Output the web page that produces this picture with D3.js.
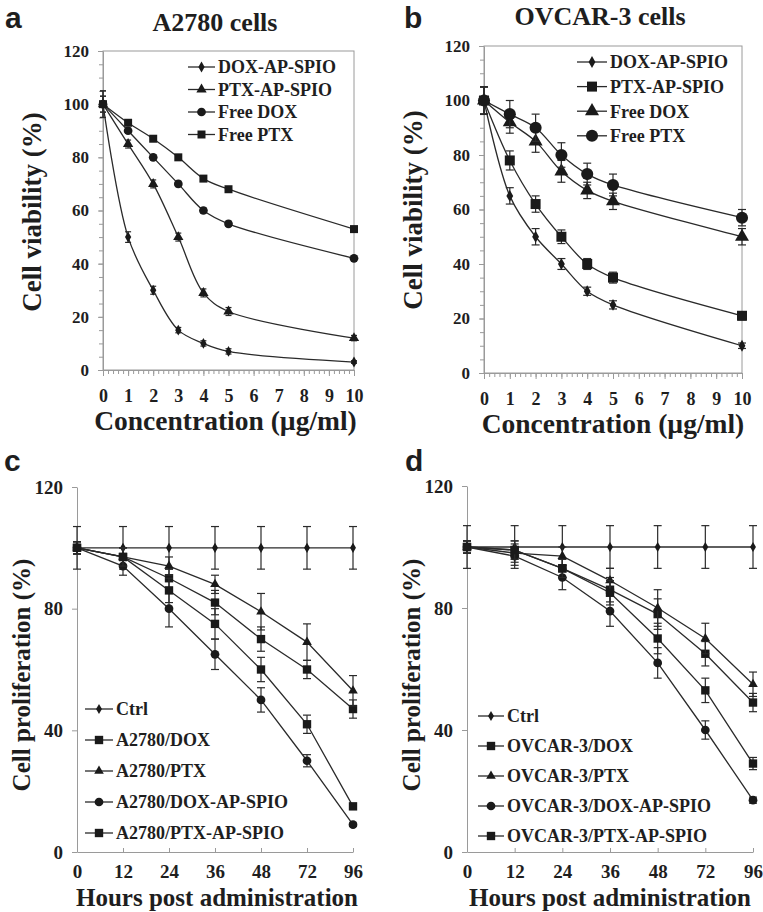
<!DOCTYPE html>
<html>
<head>
<meta charset="utf-8">
<script src="https://cdn.jsdelivr.net/npm/d3@7"></script>
<style>
body { margin: 0; background: #fff; }
text { font-family: "Liberation Serif", "Times New Roman", serif; font-weight: bold; fill: #1e1e1e; }
.letter { font-family: "Liberation Sans", Arial, sans-serif; font-size: 30px; }
.axis path, .axis line { stroke: #9a9a9a; }
</style>
</head>
<body>
<svg id="chart" width="763" height="912"></svg>
<script>
// x categories
var concLabels = ["0", "1", "2", "3", "4", "5", "6", "7", "8", "9", "10"];
var concPoints = ["0", "1", "2", "3", "4", "5", "10"];
var hourLabels = ["0", "12", "24", "36", "48", "72", "96"];

// panel a: A2780 cells, viability (%)
var aNames = ["DOX-AP-SPIO", "PTX-AP-SPIO", "Free DOX", "Free PTX"];
var aDoxSpio = [100, 50, 30, 15, 10, 7, 3];
var aPtxSpio = [100, 85, 70, 50, 29, 22, 12];
var aFreeDox = [100, 90, 80, 70, 60, 55, 42];
var aFreePtx = [100, 93, 87, 80, 72, 68, 53];
var aDoxSpioErr = [5, 2, 1.5, 1, 1, 1, 0.5];
var aPtxSpioErr = [5, 1.5, 1.5, 1.5, 1.5, 1.5, 1];
var aFreeDoxErr = [3, 1, 1, 1, 1, 1, 1];
var aFreePtxErr = [3, 1, 1, 1, 1, 1, 1];

// panel b: OVCAR-3 cells, viability (%)
var bNames = ["DOX-AP-SPIO", "PTX-AP-SPIO", "Free DOX", "Free PTX"];
var bDoxSpio = [100, 65, 50, 40, 30, 25, 10];
var bPtxSpio = [100, 78, 62, 50, 40, 35, 21];
var bFreeDox = [100, 92, 85, 74, 67, 63, 50];
var bFreePtx = [100, 95, 90, 80, 73, 69, 57];
var bDoxSpioErr = [5, 3, 3, 2, 1.5, 1.5, 1];
var bPtxSpioErr = [5, 3.5, 3, 2.5, 2, 2, 1.5];
var bFreeDoxErr = [5, 4, 4, 4, 3, 3, 3];
var bFreePtxErr = [5, 5, 5, 4.5, 4, 4, 3];

// panel c: A2780 proliferation (%)
var cNames = ["Ctrl", "A2780/DOX", "A2780/PTX", "A2780/DOX-AP-SPIO", "A2780/PTX-AP-SPIO"];
var cCtrl = [100, 100, 100, 100, 100, 100, 100];
var cDox = [100, 97, 90, 82, 70, 60, 47];
var cPtx = [100, 97, 94, 88, 79, 69, 53];
var cDoxSpio = [100, 94, 80, 65, 50, 30, 9];
var cPtxSpio = [100, 97, 86, 75, 60, 42, 15];
var cCtrlErr = [7, 7, 7, 7, 7, 7, 7];
var cDoxErr = [2, 3, 3, 4, 4, 3, 3];
var cPtxErr = [2, 3, 3, 3, 6, 6, 5];
var cDoxSpioErr = [2, 3, 6, 5, 4, 2, 0.5];
var cPtxSpioErr = [2, 3, 4, 5, 4, 3, 1];

// panel d: OVCAR-3 proliferation (%)
var dNames = ["Ctrl", "OVCAR-3/DOX", "OVCAR-3/PTX", "OVCAR-3/DOX-AP-SPIO", "OVCAR-3/PTX-AP-SPIO"];
var dCtrl = [100, 100, 100, 100, 100, 100, 100];
var dDox = [100, 99, 93, 86, 78, 65, 49];
var dPtx = [100, 98, 97, 89, 80, 70, 55];
var dDoxSpio = [100, 97, 90, 79, 62, 40, 17];
var dPtxSpio = [100, 99, 93, 85, 70, 53, 29];
var dCtrlErr = [7, 7, 7, 7, 7, 7, 7];
var dDoxErr = [2, 3, 3, 4, 5, 4, 3];
var dPtxErr = [2, 3, 3, 4, 6, 5, 4];
var dDoxSpioErr = [2, 3, 4, 5, 5, 3, 1];
var dPtxSpioErr = [2, 3, 3, 4, 5, 4, 2];

var svg = d3.select("#chart");

function makeSeries(names, values, errs, shapes, sizes) {
	return names.map(function(n, i) {
		return { name: n, values: values[i], err: errs[i], shape: shapes[i], size: sizes[i] };
	});
}

function drawPanel(p) {
	var g = svg.append("g");

	var x = d3.scalePoint().domain(p.cats).range([p.left, p.right]);
	var y = d3.scaleLinear().domain([0, p.ymax]).range([p.bottom, p.top]);

	// frame
	if (p.frame) {
		g.append("rect")
			.attr("x", p.left).attr("y", p.top)
			.attr("width", p.right - p.left).attr("height", p.bottom - p.top)
			.attr("fill", "none").attr("stroke", "#9a9a9a");
	}

	// minor ticks
	if (p.minor) {
		var xl = d3.scaleLinear().domain([0, p.cats.length - 1]).range([p.left, p.right]);
		g.append("g").attr("class", "axis")
			.attr("transform", "translate(0," + p.bottom + ")")
			.call(d3.axisBottom(xl).tickValues(d3.range(0, p.cats.length - 0.99, 0.2)).tickSize(4).tickFormat(""))
			.select(".domain").remove();
		g.append("g").attr("class", "axis")
			.attr("transform", "translate(" + p.left + ",0)")
			.call(d3.axisLeft(y).tickValues(d3.range(0, p.ymax + 1, 5)).tickSize(4).tickFormat(""))
			.select(".domain").remove();
	}

	// x axis
	var gx = g.append("g").attr("class", "axis")
		.attr("transform", "translate(0," + p.bottom + ")")
		.call(d3.axisBottom(x).tickSizeInner(p.xTick).tickSizeOuter(0).tickPadding(p.xPad));
	gx.selectAll("text").style("font-size", p.xFont + "px");

	// y axis
	var gy = g.append("g").attr("class", "axis")
		.attr("transform", "translate(" + p.left + ",0)")
		.call(d3.axisLeft(y).tickValues(d3.range(0, p.ymax + 1, p.ystep)).tickSizeInner(5).tickSizeOuter(0).tickPadding(9));
	gy.selectAll("text").style("font-size", p.yFont + "px");

	var line = d3.line()
		.x(function(d) { return x(d.x); })
		.y(function(d) { return y(d.v); })
		.curve(p.curve);

	p.series.forEach(function(s) {
		var pts = s.values.map(function(v, i) { return { x: p.xs[i], v: v, e: s.err[i] }; });

		g.append("path")
			.datum(pts)
			.attr("fill", "none")
			.attr("stroke", "#2a2a2a")
			.attr("stroke-width", 1.3)
			.attr("d", line);

		// error bars
		var eb = g.append("g").attr("stroke", "#2a2a2a").attr("stroke-width", 1.2);
		pts.forEach(function(d) {
			var cx = x(d.x), y1 = y(d.v - d.e), y2 = y(d.v + d.e);
			eb.append("line").attr("x1", cx).attr("x2", cx).attr("y1", y1).attr("y2", y2);
			eb.append("line").attr("x1", cx - p.cap).attr("x2", cx + p.cap).attr("y1", y1).attr("y2", y1);
			eb.append("line").attr("x1", cx - p.cap).attr("x2", cx + p.cap).attr("y1", y2).attr("y2", y2);
		});

		g.selectAll(null)
			.data(pts)
			.enter().append("path")
			.attr("transform", function(d) { return "translate(" + x(d.x) + "," + y(d.v) + ")"; })
			.attr("d", d3.symbol().type(s.shape).size(s.size))
			.attr("fill", "#1a1a1a");
	});

	// legend
	p.series.forEach(function(s, i) {
		var ly = p.legY + i * p.legStep;
		g.append("line")
			.attr("x1", p.legX).attr("x2", p.legX + p.legLen)
			.attr("y1", ly).attr("y2", ly)
			.attr("stroke", "#2a2a2a").attr("stroke-width", 1.3);
		g.append("path")
			.attr("transform", "translate(" + (p.legX + p.legLen / 2) + "," + ly + ")")
			.attr("d", d3.symbol().type(s.shape).size(s.size))
			.attr("fill", "#1a1a1a");
		g.append("text")
			.attr("x", p.legX + p.legLen + 3).attr("y", ly)
			.attr("dy", "0.35em")
			.style("font-size", p.legFont + "px")
			.text(s.name);
	});

	// titles
	g.append("text").attr("class", "letter")
		.attr("x", p.letterX).attr("y", p.letterY)
		.text(p.letter);
	if (p.title) {
		g.append("text")
			.attr("x", p.titleX).attr("y", p.titleY)
			.attr("text-anchor", "middle")
			.style("font-size", "26px")
			.text(p.title);
	}
	g.append("text")
		.attr("x", (p.left + p.right) / 2 + p.xTitleShift).attr("y", p.xTitleY)
		.attr("text-anchor", "middle")
		.style("font-size", p.xTitleFont + "px")
		.text(p.xTitle);
	g.append("text")
		.attr("transform", "translate(" + p.yTitleX + "," + p.yTitleY + ") rotate(-90)")
		.attr("text-anchor", "middle")
		.attr("dy", "0.35em")
		.style("font-size", p.yTitleFont + "px")
		.text(p.yTitle);
}

var smooth = d3.curveCatmullRom.alpha(0.5);

drawPanel({
	left: 103, right: 354, top: 51, bottom: 370, ymax: 120, ystep: 20,
	cats: concLabels, xs: concPoints, frame: true, minor: true, xTick: 6, xPad: 13,
	xFont: 18, yFont: 17,
	curve: smooth, cap: 3,
	series: makeSeries(aNames, [aDoxSpio, aPtxSpio, aFreeDox, aFreePtx],
		[aDoxSpioErr, aPtxSpioErr, aFreeDoxErr, aFreePtxErr],
		[d3.symbolDiamond, d3.symbolTriangle, d3.symbolCircle, d3.symbolSquare], [34, 46, 60, 64]),
	legX: 188, legY: 67, legStep: 22.5, legLen: 27, legFont: 18,
	letter: "a", letterX: 5, letterY: 28,
	title: "A2780 cells", titleX: 215, titleY: 31,
	xTitle: "Concentration (\u00b5g/ml)", xTitleY: 430, xTitleShift: -3, xTitleFont: 27.5,
	yTitle: "Cell viability (%)", yTitleX: 32, yTitleY: 212, yTitleFont: 27
});

drawPanel({
	left: 484, right: 742, top: 46, bottom: 373, ymax: 120, ystep: 20,
	cats: concLabels, xs: concPoints, frame: true, minor: true, xTick: 6, xPad: 13,
	xFont: 18, yFont: 17,
	curve: smooth, cap: 4,
	series: makeSeries(bNames, [bDoxSpio, bPtxSpio, bFreeDox, bFreePtx],
		[bDoxSpioErr, bPtxSpioErr, bFreeDoxErr, bFreePtxErr],
		[d3.symbolDiamond, d3.symbolSquare, d3.symbolTriangle, d3.symbolCircle], [40, 100, 85, 115]),
	legX: 577, legY: 62, legStep: 24.6, legLen: 30, legFont: 18,
	letter: "b", letterX: 404, letterY: 28,
	title: "OVCAR-3 cells", titleX: 600, titleY: 25,
	xTitle: "Concentration (\u00b5g/ml)", xTitleY: 433, xTitleShift: 0, xTitleFont: 27.5,
	yTitle: "Cell viability (%)", yTitleX: 413, yTitleY: 210, yTitleFont: 27
});

drawPanel({
	left: 77, right: 353, top: 487, bottom: 852, ymax: 120, ystep: 40,
	cats: hourLabels, xs: hourLabels, frame: false, minor: false, xTick: -4, xPad: 13,
	xFont: 19, yFont: 19,
	curve: d3.curveLinear, cap: 4,
	series: makeSeries(cNames, [cCtrl, cDox, cPtx, cDoxSpio, cPtxSpio],
		[cCtrlErr, cDoxErr, cPtxErr, cDoxSpioErr, cPtxSpioErr],
		[d3.symbolDiamond, d3.symbolSquare, d3.symbolTriangle, d3.symbolCircle, d3.symbolSquare], [30, 70, 40, 60, 70]),
	legX: 85, legY: 709, legStep: 31, legLen: 28, legFont: 18,
	letter: "c", letterX: 4, letterY: 471,
	title: null,
	xTitle: "Hours post administration", xTitleY: 906, xTitleShift: 2, xTitleFont: 25,
	yTitle: "Cell proliferation (%)", yTitleX: 21, yTitleY: 675, yTitleFont: 25
});

drawPanel({
	left: 467, right: 753, top: 486, bottom: 852, ymax: 120, ystep: 40,
	cats: hourLabels, xs: hourLabels, frame: false, minor: false, xTick: -4, xPad: 13,
	xFont: 19, yFont: 19,
	curve: d3.curveLinear, cap: 4,
	series: makeSeries(dNames, [dCtrl, dDox, dPtx, dDoxSpio, dPtxSpio],
		[dCtrlErr, dDoxErr, dPtxErr, dDoxSpioErr, dPtxSpioErr],
		[d3.symbolDiamond, d3.symbolSquare, d3.symbolTriangle, d3.symbolCircle, d3.symbolSquare], [30, 70, 40, 60, 70]),
	legX: 478, legY: 716, legStep: 30, legLen: 26, legFont: 18,
	letter: "d", letterX: 405, letterY: 471,
	title: null,
	xTitle: "Hours post administration", xTitleY: 906, xTitleShift: 0, xTitleFont: 25,
	yTitle: "Cell proliferation (%)", yTitleX: 411, yTitleY: 675, yTitleFont: 25
});
</script>
</body>
</html>
